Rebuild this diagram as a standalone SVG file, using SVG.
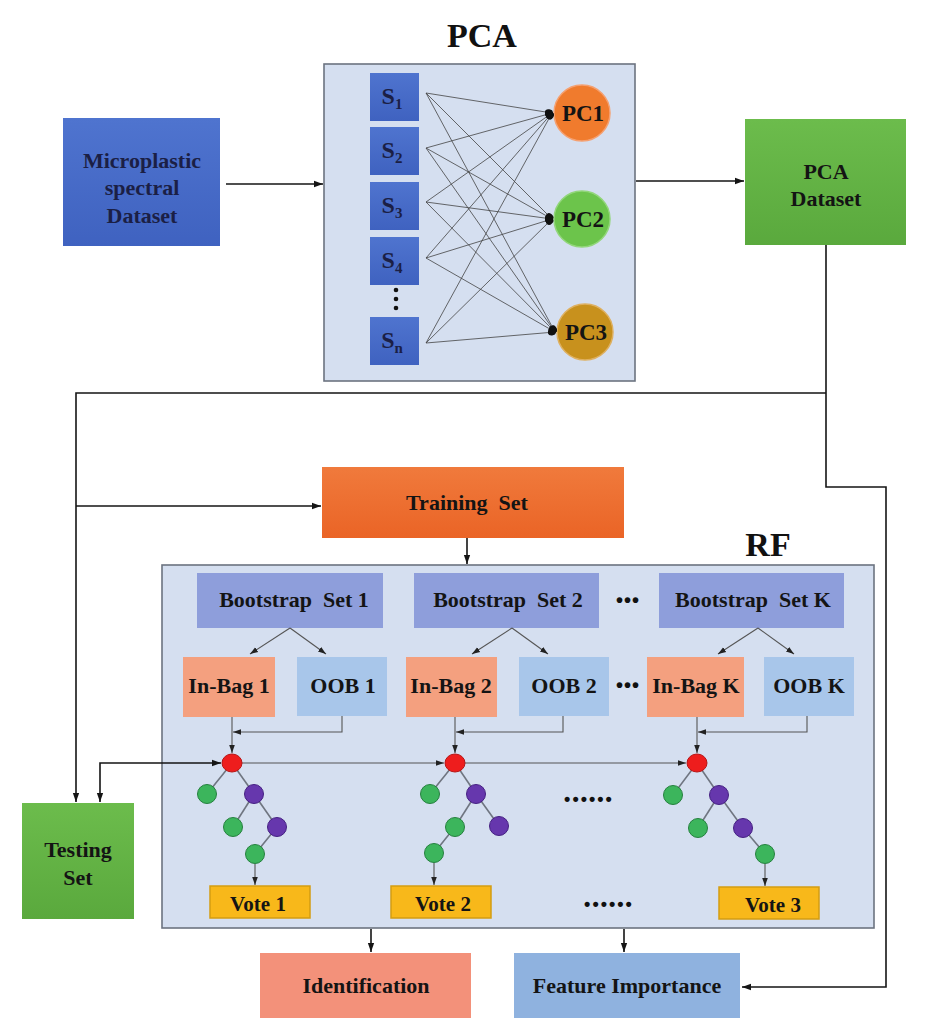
<svg xmlns="http://www.w3.org/2000/svg" width="946" height="1024" viewBox="0 0 946 1024">
<style>
.t{font-family:"Liberation Serif",serif;font-weight:bold;fill:#141414;text-anchor:middle;white-space:pre}
.t22{font-size:22px}
.tn{fill:#1b1f45}
.ttl{font-size:34px;fill:#111}
.dots{font-family:"Liberation Sans",sans-serif;font-weight:bold;fill:#111;text-anchor:middle;white-space:pre}
.main{fill:none;stroke:#151515;stroke-width:1.6}
.thin{fill:none;stroke:#555;stroke-width:1.1}
.net{fill:none;stroke:#444;stroke-width:0.8}
.edge{stroke:#6f7580;stroke-width:1.6}
.panel{fill:#d5dff0;stroke:#6c7380;stroke-width:1.6}
.sbox{fill:url(#gBlue)}
.boot{fill:#8e9edb}
.inbag{fill:#f4a07f}
.oob{fill:#a8c6ea}
.vote{fill:#f8b81a;stroke:#d39d12;stroke-width:1.5}
.red{fill:#ee1d1d;stroke:#b71414;stroke-width:1}
.grn{fill:#3cb55c;stroke:#25803e;stroke-width:1}
.pur{fill:#6637ad;stroke:#452082;stroke-width:1}
</style>
<defs>
<linearGradient id="gBlue" x1="0" y1="0" x2="0" y2="1"><stop offset="0" stop-color="#4f74cf"/><stop offset="1" stop-color="#3f62c0"/></linearGradient>
<linearGradient id="gGreen" x1="0" y1="0" x2="0" y2="1"><stop offset="0" stop-color="#6cbc4c"/><stop offset="1" stop-color="#5aa93d"/></linearGradient>
<linearGradient id="gOrange" x1="0" y1="0" x2="0" y2="1"><stop offset="0" stop-color="#f07a3c"/><stop offset="1" stop-color="#ea6426"/></linearGradient>
<marker id="ah" viewBox="0 0 10 10" refX="10" refY="5" markerWidth="9" markerHeight="9" markerUnits="userSpaceOnUse" orient="auto-start-reverse"><path d="M0,1.5 L10,5 L0,8.5 z" fill="#151515"/></marker>
<marker id="ahs" viewBox="0 0 10 10" refX="10" refY="5" markerWidth="8" markerHeight="8" markerUnits="userSpaceOnUse" orient="auto-start-reverse"><path d="M0,1.5 L10,5 L0,8.5 z" fill="#222"/></marker>
<marker id="pcm" viewBox="0 0 10 10" refX="9" refY="5" markerWidth="8" markerHeight="8" markerUnits="userSpaceOnUse" orient="auto"><ellipse cx="5" cy="5" rx="5" ry="4" fill="#111"/></marker>
</defs>
<rect width="946" height="1024" fill="#ffffff"/>

<!-- Titles -->
<text class="t ttl" x="482" y="47">PCA</text>
<text class="t ttl" x="768" y="556">RF</text>

<!-- PCA panel -->
<g id="pca-panel">
<rect class="panel" x="324" y="64" width="311" height="317"/>
</g>
<g id="s1"><rect class="sbox" x="370" y="73" width="49" height="48"/><text class="t tn" x="392" y="104" font-size="24">S<tspan font-size="15" dy="5">1</tspan></text></g>
<g id="s2"><rect class="sbox" x="370" y="127" width="49" height="48"/><text class="t tn" x="392" y="158" font-size="24">S<tspan font-size="15" dy="5">2</tspan></text></g>
<g id="s3"><rect class="sbox" x="370" y="182" width="49" height="48"/><text class="t tn" x="392" y="213" font-size="24">S<tspan font-size="15" dy="5">3</tspan></text></g>
<g id="s4"><rect class="sbox" x="370" y="237" width="49" height="48"/><text class="t tn" x="392" y="268" font-size="24">S<tspan font-size="15" dy="5">4</tspan></text></g>
<g id="sdots"><circle cx="396" cy="290" r="2.3" fill="#111"/><circle cx="396" cy="299" r="2.3" fill="#111"/><circle cx="396" cy="308" r="2.3" fill="#111"/></g>
<g id="sn"><rect class="sbox" x="370" y="317" width="49" height="48"/><text class="t tn" x="392" y="348" font-size="24">S<tspan font-size="15" dy="5">n</tspan></text></g>
<g id="pc1"><circle cx="582" cy="113" r="28" fill="#f07b2d" stroke="#f5a070" stroke-width="1.5"/><text class="t" x="583" y="121" font-size="23">PC1</text></g>
<g id="pc2"><circle cx="582" cy="219" r="28" fill="#6cc44b" stroke="#92d67a" stroke-width="1.5"/><text class="t" x="583" y="227" font-size="23">PC2</text></g>
<g id="pc3"><circle cx="585" cy="332" r="28" fill="#c8911d" stroke="#deb060" stroke-width="1.5"/><text class="t" x="586" y="340" font-size="23">PC3</text></g>

<!-- Left/right top boxes -->
<g id="microplastic"><rect x="63" y="118" width="157" height="128" fill="url(#gBlue)"/>
<text class="t t22 tn" x="142" y="168">Microplastic</text><text class="t t22 tn" x="142" y="195">spectral</text><text class="t t22 tn" x="142" y="223">Dataset</text></g>
<g id="pca-dataset"><rect x="745" y="119" width="161" height="126" fill="url(#gGreen)"/>
<text class="t t22" x="826" y="179">PCA</text><text class="t t22" x="826" y="206">Dataset</text></g>

<g id="training-set"><rect x="322" y="467" width="302" height="71" fill="url(#gOrange)"/><text class="t t22" x="467" y="510" xml:space="preserve">Training  Set</text></g>

<!-- RF panel -->
<g id="rf-panel"><rect class="panel" x="162" y="565" width="712" height="363"/></g>
<g id="boot1"><rect class="boot" x="197" y="573" width="186" height="55"/><text class="t t22" x="294" y="607" xml:space="preserve">Bootstrap  Set 1</text></g>
<g id="boot2"><rect class="boot" x="414" y="573" width="185" height="55"/><text class="t t22" x="508" y="607" xml:space="preserve">Bootstrap  Set 2</text></g>
<text class="dots" x="628" y="607" font-size="20" letter-spacing="1">•••</text>
<g id="bootk"><rect class="boot" x="659" y="573" width="185" height="55"/><text class="t t22" x="753" y="607" xml:space="preserve">Bootstrap  Set K</text></g>

<g id="inbag1"><rect class="inbag" x="183" y="657" width="92" height="60"/><text class="t t22" x="229" y="693">In-Bag 1</text></g>
<g id="oob1"><rect class="oob" x="297" y="657" width="90" height="59"/><text class="t t22" x="343" y="693">OOB 1</text></g>
<g id="inbag2"><rect class="inbag" x="406" y="657" width="91" height="60"/><text class="t t22" x="451" y="693">In-Bag 2</text></g>
<g id="oob2"><rect class="oob" x="519" y="657" width="90" height="59"/><text class="t t22" x="564" y="693">OOB 2</text></g>
<text class="dots" x="628" y="692" font-size="20" letter-spacing="1">•••</text>
<g id="inbagk"><rect class="inbag" x="647" y="657" width="97" height="60"/><text class="t t22" x="696" y="693">In-Bag K</text></g>
<g id="oobk"><rect class="oob" x="764" y="657" width="90" height="59"/><text class="t t22" x="809" y="693">OOB K</text></g>

<text class="dots" x="589" y="805" font-size="18" letter-spacing="2">••••••</text>
<text class="dots" x="609" y="910" font-size="18" letter-spacing="2">••••••</text>

<g id="vote1"><rect class="vote" x="210" y="886" width="100" height="32"/><text class="t" x="258" y="911" font-size="21">Vote 1</text></g>
<g id="vote2"><rect class="vote" x="391" y="886" width="100" height="32"/><text class="t" x="443" y="911" font-size="21">Vote 2</text></g>
<g id="vote3"><rect class="vote" x="719" y="887" width="100" height="32"/><text class="t" x="773" y="912" font-size="21">Vote 3</text></g>

<g id="testing-set"><rect x="22" y="803" width="112" height="116" fill="url(#gGreen)"/><text class="t t22" x="78" y="857">Testing</text><text class="t t22" x="78" y="885">Set</text></g>

<g id="identification"><rect x="260" y="953" width="211" height="65" fill="#f3917a"/><text class="t t22" x="366" y="993">Identification</text></g>
<g id="feature-importance"><rect x="514" y="953" width="226" height="65" fill="#8fb2df"/><text class="t t22" x="627" y="993">Feature Importance</text></g>

<!-- Connectors -->
<g id="connectors">
<!-- PCA network -->
<g class="net">
<line x1="426" y1="93" x2="552" y2="113" marker-end="url(#pcm)"/><line x1="426" y1="148" x2="552" y2="113" marker-end="url(#pcm)"/><line x1="426" y1="202" x2="552" y2="113" marker-end="url(#pcm)"/><line x1="426" y1="258" x2="552" y2="113" marker-end="url(#pcm)"/><line x1="426" y1="343" x2="552" y2="113" marker-end="url(#pcm)"/>
<line x1="426" y1="93" x2="552" y2="219" marker-end="url(#pcm)"/><line x1="426" y1="148" x2="552" y2="219" marker-end="url(#pcm)"/><line x1="426" y1="202" x2="552" y2="219" marker-end="url(#pcm)"/><line x1="426" y1="258" x2="552" y2="219" marker-end="url(#pcm)"/><line x1="426" y1="343" x2="552" y2="219" marker-end="url(#pcm)"/>
<line x1="426" y1="93" x2="555" y2="332" marker-end="url(#pcm)"/><line x1="426" y1="148" x2="555" y2="332" marker-end="url(#pcm)"/><line x1="426" y1="202" x2="555" y2="332" marker-end="url(#pcm)"/><line x1="426" y1="258" x2="555" y2="332" marker-end="url(#pcm)"/><line x1="426" y1="343" x2="555" y2="332" marker-end="url(#pcm)"/>
</g>
<!-- main flow -->
<line class="main" x1="226" y1="184" x2="323" y2="184" marker-end="url(#ah)"/>
<line class="main" x1="636" y1="181" x2="744" y2="181" marker-end="url(#ah)"/>
<path class="main" d="M826,245 L826,487 L886,487 L886,987 L742,987" marker-end="url(#ah)"/>
<path class="main" d="M826,393 L76,393 L76,802" marker-end="url(#ah)"/>
<line class="main" x1="76" y1="506" x2="321" y2="506" marker-end="url(#ah)"/>
<line class="main" x1="467" y1="538" x2="467" y2="564" marker-end="url(#ah)"/>
<path class="main" d="M100,802 L100,763 L221,763" marker-start="url(#ah)" marker-end="url(#ah)"/>
<line class="main" x1="371" y1="929" x2="371" y2="952" marker-end="url(#ah)"/>
<line class="main" x1="624" y1="929" x2="624" y2="952" marker-end="url(#ah)"/>
<!-- bootstrap splits -->
<g class="thin">
<line x1="290" y1="628" x2="250" y2="654" marker-end="url(#ahs)"/>
<line x1="290" y1="628" x2="326" y2="654" marker-end="url(#ahs)"/>
<line x1="512" y1="628" x2="472" y2="654" marker-end="url(#ahs)"/>
<line x1="512" y1="628" x2="548" y2="654" marker-end="url(#ahs)"/>
<line x1="758" y1="628" x2="718" y2="654" marker-end="url(#ahs)"/>
<line x1="758" y1="628" x2="794" y2="654" marker-end="url(#ahs)"/>
<line x1="232" y1="717" x2="232" y2="753" marker-end="url(#ahs)"/>
<path d="M342,716 L342,732 L233,732" marker-end="url(#ahs)"/>
<line x1="455" y1="717" x2="455" y2="753" marker-end="url(#ahs)"/>
<path d="M563,716 L563,732 L456,732" marker-end="url(#ahs)"/>
<line x1="697" y1="717" x2="697" y2="753" marker-end="url(#ahs)"/>
<path d="M807,716 L807,732 L698,732" marker-end="url(#ahs)"/>
<line x1="242" y1="763" x2="444" y2="763" marker-end="url(#ahs)"/>
<line x1="465" y1="763" x2="686" y2="763" marker-end="url(#ahs)"/>
<line x1="255" y1="864" x2="255" y2="885" marker-end="url(#ahs)"/>
<line x1="434" y1="863" x2="434" y2="885" marker-end="url(#ahs)"/>
<line x1="765" y1="864" x2="765" y2="886" marker-end="url(#ahs)"/>
</g>
<!-- tree edges -->
<g class="edge">
<line x1="232" y1="763" x2="207" y2="794"/><line x1="232" y1="763" x2="254" y2="794"/><line x1="254" y1="794" x2="233" y2="827"/><line x1="254" y1="794" x2="277" y2="827"/><line x1="277" y1="827" x2="255" y2="854"/>
<line x1="455" y1="763" x2="430" y2="794"/><line x1="455" y1="763" x2="476" y2="794"/><line x1="476" y1="794" x2="455" y2="827"/><line x1="476" y1="794" x2="499" y2="826"/><line x1="455" y1="827" x2="434" y2="853"/>
<line x1="697" y1="763" x2="673" y2="795"/><line x1="697" y1="763" x2="719" y2="795"/><line x1="719" y1="795" x2="698" y2="828"/><line x1="719" y1="795" x2="743" y2="828"/><line x1="743" y1="828" x2="765" y2="854"/>
</g>
</g>

<!-- Tree nodes -->
<g id="tree1">
<ellipse class="red" cx="232" cy="763" rx="10" ry="9"/>
<circle class="grn" cx="207" cy="794" r="9.5"/><circle class="pur" cx="254" cy="794" r="9.5"/>
<circle class="grn" cx="233" cy="827" r="9.5"/><circle class="pur" cx="277" cy="827" r="9.5"/>
<circle class="grn" cx="255" cy="854" r="9.5"/>
</g>
<g id="tree2">
<ellipse class="red" cx="455" cy="763" rx="10" ry="9"/>
<circle class="grn" cx="430" cy="794" r="9.5"/><circle class="pur" cx="476" cy="794" r="9.5"/>
<circle class="grn" cx="455" cy="827" r="9.5"/><circle class="pur" cx="499" cy="826" r="9.5"/>
<circle class="grn" cx="434" cy="853" r="9.5"/>
</g>
<g id="tree3">
<ellipse class="red" cx="697" cy="763" rx="10" ry="9"/>
<circle class="grn" cx="673" cy="795" r="9.5"/><circle class="pur" cx="719" cy="795" r="9.5"/>
<circle class="grn" cx="698" cy="828" r="9.5"/><circle class="pur" cx="743" cy="828" r="9.5"/>
<circle class="grn" cx="765" cy="854" r="9.5"/>
</g>
</svg>
